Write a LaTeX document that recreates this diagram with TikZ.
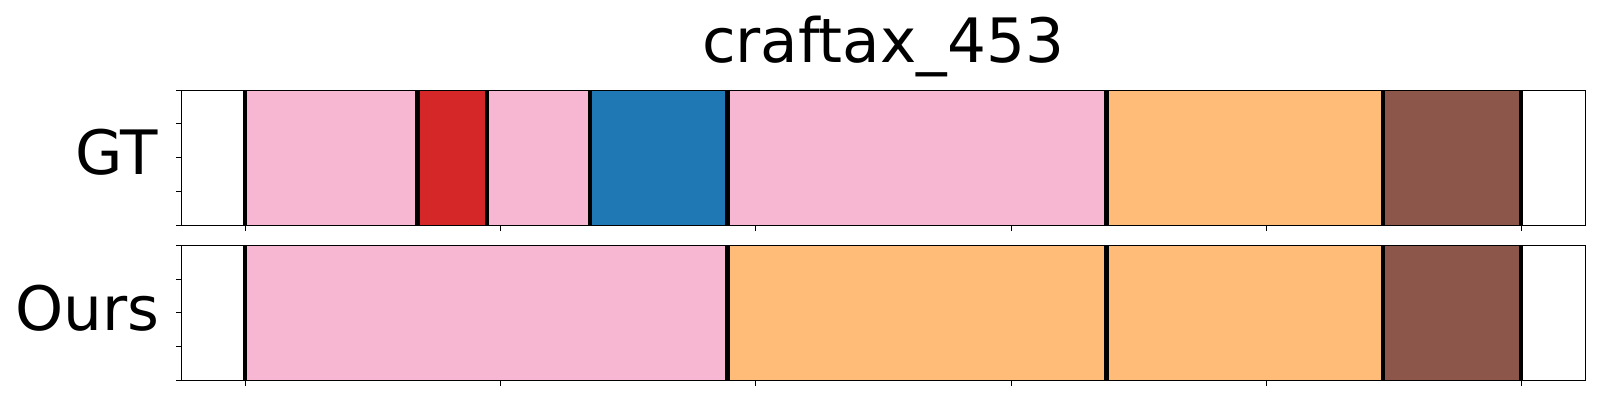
\documentclass[tikz,border=0pt]{standalone}
\usepackage{fontspec}
\setmainfont{DejaVu Sans}
\definecolor{segpink}{HTML}{F7B6D2}
\definecolor{segred}{HTML}{D62728}
\definecolor{segblue}{HTML}{1F77B4}
\definecolor{segorange}{HTML}{FFBB78}
\definecolor{segbrown}{HTML}{8C564B}
\tikzset{
  bigtext/.style={font=\fontsize{17.4}{20}\selectfont, inner sep=0pt, text=black},
  frameline/.style={draw=black, line width=0.12mm},
  tickline/.style={draw=black, line width=0.1mm},
  boundline/.style={draw=black, line width=0.45mm},
}
\begin{document}
\begin{tikzpicture}[x=0.01cm, y=-0.01cm]
\fill[white] (0,0) rectangle (1600,400);
\useasboundingbox (0,0) rectangle (1600,400);
% title
\node[bigtext, anchor=base] (title) at (883,62.7) {craftax\_453};
% labels
\node[bigtext, anchor=base east] (gt) at (159,174) {GT};
\node[bigtext, anchor=base east] (ours) at (160,330) {Ours};
% ---------- GT panel ----------
\def\ta{90.3}\def\tb{225.3}
\fill[segpink]   (245,\ta) rectangle (417.7,\tb);
\fill[segred]    (417.7,\ta) rectangle (487,\tb);
\fill[segpink]   (487,\ta) rectangle (590,\tb);
\fill[segblue]   (590,\ta) rectangle (727.5,\tb);
\fill[segpink]   (727.5,\ta) rectangle (1106.5,\tb);
\fill[segorange] (1106.5,\ta) rectangle (1383,\tb);
\fill[segbrown]  (1383,\ta) rectangle (1521,\tb);
\foreach \x in {245,417.7,487,590,727.5,1106.5,1383,1521}
  \draw[boundline] (\x,\ta) -- (\x,\tb);
\draw[frameline] (181.3,\ta) rectangle (1585.7,\tb);
\foreach \y in {90.3,123.95,157.8,191.65,225.3}
  \draw[tickline] (176,\y) -- (181.3,\y);
\foreach \k in {0,...,5}
  \draw[tickline] ({245.3+255.3*\k},\tb) -- ({245.3+255.3*\k},{\tb+5.3});
% ---------- Ours panel ----------
\def\ba{245.3}\def\bb{380.3}
\fill[segpink]   (245,\ba) rectangle (727.5,\bb);
\fill[segorange] (727.5,\ba) rectangle (1106.5,\bb);
\fill[segorange] (1106.5,\ba) rectangle (1383,\bb);
\fill[segbrown]  (1383,\ba) rectangle (1521,\bb);
\foreach \x in {245,727.5,1106.5,1383,1521}
  \draw[boundline] (\x,\ba) -- (\x,\bb);
\draw[frameline] (181.3,\ba) rectangle (1585.7,\bb);
\foreach \y in {245.3,279.05,312.8,346.55,380.3}
  \draw[tickline] (176,\y) -- (181.3,\y);
\foreach \k in {0,...,5}
  \draw[tickline] ({245.3+255.3*\k},\bb) -- ({245.3+255.3*\k},{\bb+5.3});
\end{tikzpicture}
\end{document}
